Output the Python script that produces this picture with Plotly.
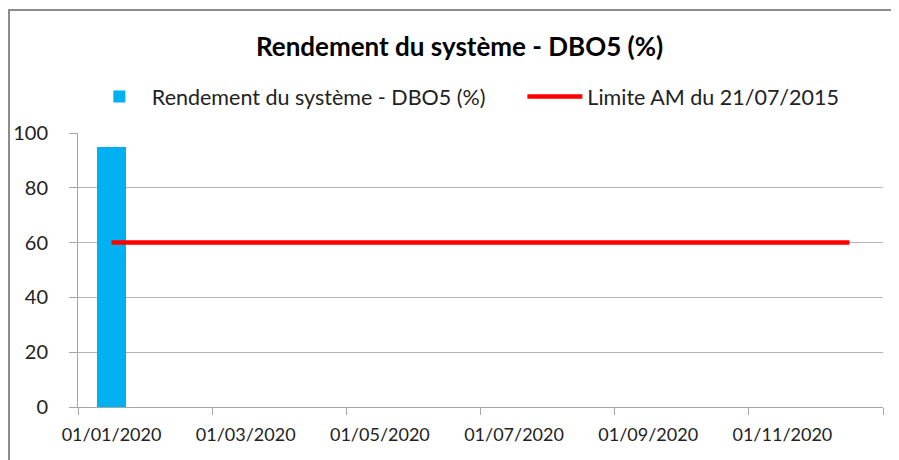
import plotly.graph_objects as go

months = ["01/01/2020", "01/02/2020", "01/03/2020", "01/04/2020", "01/05/2020", "01/06/2020",
          "01/07/2020", "01/08/2020", "01/09/2020", "01/10/2020", "01/11/2020", "01/12/2020"]
rendement = [95, None, None, None, None, None, None, None, None, None, None, None]
limite = [60, 60, 60, 60, 60, 60, 60, 60, 60, 60, 60, 60]
tick_labels = ["01/01/2020", "01/03/2020", "01/05/2020", "01/07/2020", "01/09/2020", "01/11/2020"]
y_ticks = [0, 20, 40, 60, 80, 100]

x_idx = list(range(len(months)))
tick_pos = [months.index(t) for t in tick_labels]

FONT = "Lato"
LEG_FONT = dict(size=21.5, family=FONT, color="#222")

fig = go.Figure()
fig.add_trace(go.Bar(
    x=x_idx, y=rendement, name="Rendement du système - DBO5 (%)",
    marker=dict(color="#00B0F0", line=dict(width=0)), width=0.42, legend="legend",
))
fig.add_trace(go.Scatter(
    x=x_idx, y=limite, name="Limite AM du 21/07/2015", mode="lines",
    line=dict(color="#FF0000", width=4.5), legend="legend2",
))

fig.update_layout(
    width=899, height=460,
    margin=dict(l=70, r=24, t=125, b=61),
    paper_bgcolor="white", plot_bgcolor="white",
    font=dict(family=FONT, color="#000000"),
    title=dict(text="<b>Rendement du système - DBO5 (%)</b>", font=dict(size=26, family=FONT, color="#000"),
               xref="paper", x=0.474, xanchor="center", yref="container", y=0.915, yanchor="middle"),
    legend=dict(orientation="h", x=0.011, xanchor="left", y=1.208, yanchor="top",
                font=LEG_FONT, itemwidth=55, bgcolor="rgba(0,0,0,0)"),
    legend2=dict(orientation="h", x=0.552, xanchor="left", y=1.208, yanchor="top",
                 font=LEG_FONT, itemwidth=55, bgcolor="rgba(0,0,0,0)"),
    bargap=0,
    showlegend=True,
)
fig.update_xaxes(
    range=[-0.5, len(months) - 0.5], tickmode="array", tickvals=tick_pos, ticktext=tick_labels,
    ticks="", showgrid=False, zeroline=False, ticklabelstandoff=11, automargin=False,
    showline=True, linecolor="#A6A6A6", linewidth=1,
    tickfont=dict(size=18, family=FONT, color="#222"),
    minor=dict(tickmode="linear", tick0=-0.5, dtick=2, ticks="outside", ticklen=7, tickcolor="#A6A6A6", showgrid=False),
)
fig.update_yaxes(
    range=[0, 100], tickmode="array", tickvals=y_ticks, automargin=False,
    ticks="outside", ticklen=8, tickcolor="#A6A6A6", ticklabelstandoff=17,
    showgrid=True, gridcolor="#B3B3B3", gridwidth=1, zeroline=False,
    showline=True, linecolor="#A6A6A6", linewidth=1,
    tickfont=dict(size=20, family=FONT, color="#222"),
)
fig.add_shape(type="rect", xref="paper", yref="paper", x0=-0.0857, x1=1.2, y0=-0.4, y1=1.449,
              line=dict(color="#8C8C8C", width=2), fillcolor="rgba(0,0,0,0)", layer="below")

fig.write_html("out.html")
